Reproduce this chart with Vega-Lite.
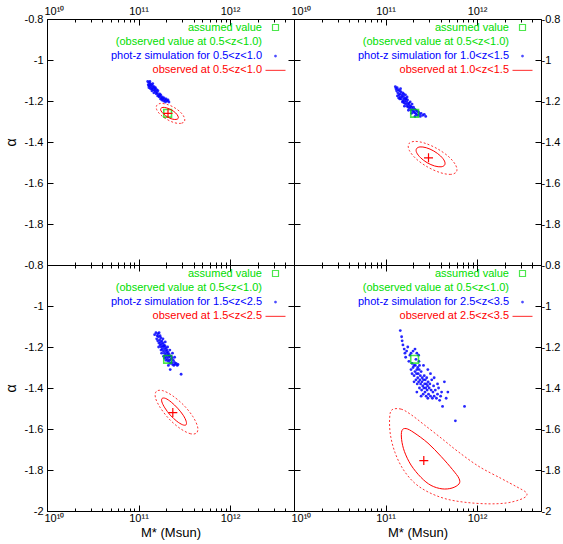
{
 "$schema": "https://vega.github.io/schema/vega-lite/v6.json",
 "padding": {"left": 3, "top": 1, "right": 2, "bottom": 2},
 "background": "white",
 "config": {
  "font": "Liberation Sans",
  "view": {"stroke": "#000000", "strokeWidth": 1},
  "axis": {"domain": false, "grid": false, "tickColor": "#000000", "tickWidth": 1, "labelColor": "#000000", "labelFont": "Liberation Sans", "labelFontSize": 11, "titleFont": "Liberation Sans", "titleFontSize": 13, "titleFontWeight": "normal", "titleColor": "#000000"}
 },
 "datasets": {
  "assumed": [{"M": 2.08e11, "alpha": -1.26}],
  "observed": [
   {"panel": "TL", "M": 2.1e11, "alpha": -1.26},
   {"panel": "TR", "M": 2.95e11, "alpha": -1.477},
   {"panel": "BL", "M": 2.37e11, "alpha": -1.52},
   {"panel": "BR", "M": 2.62e11, "alpha": -1.754}
  ],
  "sim_tl": [
   {"M":1.26e11,"alpha":-1.105},{"M":1.28e11,"alpha":-1.12},{"M":1.30e11,"alpha":-1.11},{"M":1.32e11,"alpha":-1.125},{"M":1.34e11,"alpha":-1.115},{"M":1.30e11,"alpha":-1.135},{"M":1.36e11,"alpha":-1.13},{"M":1.38e11,"alpha":-1.12},{"M":1.40e11,"alpha":-1.14},{"M":1.42e11,"alpha":-1.125},{"M":1.44e11,"alpha":-1.135},{"M":1.40e11,"alpha":-1.15},{"M":1.46e11,"alpha":-1.145},{"M":1.48e11,"alpha":-1.13},{"M":1.50e11,"alpha":-1.15},{"M":1.35e11,"alpha":-1.14},{"M":1.52e11,"alpha":-1.14},{"M":1.55e11,"alpha":-1.155},{"M":1.58e11,"alpha":-1.145},{"M":1.47e11,"alpha":-1.16},{"M":1.60e11,"alpha":-1.16},{"M":1.56e11,"alpha":-1.165},{"M":1.63e11,"alpha":-1.15},{"M":1.65e11,"alpha":-1.17},{"M":1.62e11,"alpha":-1.175},{"M":1.70e11,"alpha":-1.165},{"M":1.68e11,"alpha":-1.18},{"M":1.72e11,"alpha":-1.175},{"M":1.75e11,"alpha":-1.17},{"M":1.78e11,"alpha":-1.185},{"M":1.74e11,"alpha":-1.19},{"M":1.82e11,"alpha":-1.18},{"M":1.85e11,"alpha":-1.19},{"M":1.80e11,"alpha":-1.195},{"M":1.90e11,"alpha":-1.185},{"M":1.88e11,"alpha":-1.2},{"M":1.95e11,"alpha":-1.195},{"M":2.0e11,"alpha":-1.19},{"M":2.05e11,"alpha":-1.2},{"M":1.97e11,"alpha":-1.205},{"M":2.1e11,"alpha":-1.195},{"M":2.15e11,"alpha":-1.205},{"M":1.33e11,"alpha":-1.105},{"M":1.43e11,"alpha":-1.115},{"M":1.53e11,"alpha":-1.135},{"M":1.29e11,"alpha":-1.125}
  ],
  "sim_tr": [
   {"M":1.30e11,"alpha":-1.14},{"M":1.32e11,"alpha":-1.15},{"M":1.34e11,"alpha":-1.135},{"M":1.36e11,"alpha":-1.16},{"M":1.38e11,"alpha":-1.145},{"M":1.40e11,"alpha":-1.17},{"M":1.42e11,"alpha":-1.15},{"M":1.44e11,"alpha":-1.165},{"M":1.45e11,"alpha":-1.18},{"M":1.47e11,"alpha":-1.155},{"M":1.48e11,"alpha":-1.19},{"M":1.50e11,"alpha":-1.17},{"M":1.52e11,"alpha":-1.18},{"M":1.54e11,"alpha":-1.16},{"M":1.55e11,"alpha":-1.2},{"M":1.57e11,"alpha":-1.175},{"M":1.58e11,"alpha":-1.19},{"M":1.60e11,"alpha":-1.21},{"M":1.62e11,"alpha":-1.185},{"M":1.63e11,"alpha":-1.2},{"M":1.65e11,"alpha":-1.17},{"M":1.66e11,"alpha":-1.215},{"M":1.68e11,"alpha":-1.19},{"M":1.70e11,"alpha":-1.205},{"M":1.72e11,"alpha":-1.225},{"M":1.74e11,"alpha":-1.195},{"M":1.75e11,"alpha":-1.215},{"M":1.77e11,"alpha":-1.23},{"M":1.80e11,"alpha":-1.21},{"M":1.82e11,"alpha":-1.22},{"M":1.84e11,"alpha":-1.235},{"M":1.86e11,"alpha":-1.205},{"M":1.88e11,"alpha":-1.225},{"M":1.90e11,"alpha":-1.245},{"M":1.92e11,"alpha":-1.23},{"M":1.95e11,"alpha":-1.215},{"M":1.97e11,"alpha":-1.24},{"M":2.0e11,"alpha":-1.25},{"M":2.02e11,"alpha":-1.23},{"M":2.05e11,"alpha":-1.255},{"M":2.08e11,"alpha":-1.24},{"M":2.12e11,"alpha":-1.26},{"M":2.15e11,"alpha":-1.245},{"M":2.18e11,"alpha":-1.265},{"M":2.22e11,"alpha":-1.25},{"M":2.25e11,"alpha":-1.27},{"M":2.30e11,"alpha":-1.255},{"M":2.35e11,"alpha":-1.265},{"M":2.40e11,"alpha":-1.275},{"M":2.45e11,"alpha":-1.26},{"M":2.55e11,"alpha":-1.27},{"M":2.65e11,"alpha":-1.265},{"M":2.75e11,"alpha":-1.275},{"M":1.35e11,"alpha":-1.175},{"M":1.43e11,"alpha":-1.19},{"M":1.53e11,"alpha":-1.205},{"M":1.46e11,"alpha":-1.14},{"M":1.58e11,"alpha":-1.165},{"M":1.67e11,"alpha":-1.19},{"M":1.78e11,"alpha":-1.245},{"M":1.93e11,"alpha":-1.26},{"M":1.28e11,"alpha":-1.13},{"M":1.39e11,"alpha":-1.185},{"M":1.61e11,"alpha":-1.225},{"M":1.72e11,"alpha":-1.18},{"M":2.10e11,"alpha":-1.275}
  ],
  "sim_bl": [
   {"M":1.50e11,"alpha":-1.14},{"M":1.55e11,"alpha":-1.13},{"M":1.58e11,"alpha":-1.16},{"M":1.60e11,"alpha":-1.145},{"M":1.62e11,"alpha":-1.17},{"M":1.65e11,"alpha":-1.15},{"M":1.67e11,"alpha":-1.18},{"M":1.68e11,"alpha":-1.13},{"M":1.70e11,"alpha":-1.165},{"M":1.72e11,"alpha":-1.19},{"M":1.74e11,"alpha":-1.175},{"M":1.75e11,"alpha":-1.155},{"M":1.77e11,"alpha":-1.2},{"M":1.78e11,"alpha":-1.185},{"M":1.80e11,"alpha":-1.17},{"M":1.82e11,"alpha":-1.21},{"M":1.83e11,"alpha":-1.195},{"M":1.85e11,"alpha":-1.18},{"M":1.87e11,"alpha":-1.22},{"M":1.88e11,"alpha":-1.2},{"M":1.90e11,"alpha":-1.19},{"M":1.92e11,"alpha":-1.23},{"M":1.93e11,"alpha":-1.21},{"M":1.95e11,"alpha":-1.195},{"M":1.97e11,"alpha":-1.24},{"M":1.98e11,"alpha":-1.22},{"M":2.00e11,"alpha":-1.205},{"M":2.02e11,"alpha":-1.25},{"M":2.04e11,"alpha":-1.23},{"M":2.05e11,"alpha":-1.215},{"M":2.07e11,"alpha":-1.26},{"M":2.09e11,"alpha":-1.24},{"M":2.10e11,"alpha":-1.225},{"M":2.12e11,"alpha":-1.27},{"M":2.14e11,"alpha":-1.25},{"M":2.16e11,"alpha":-1.235},{"M":2.18e11,"alpha":-1.265},{"M":2.20e11,"alpha":-1.245},{"M":2.22e11,"alpha":-1.28},{"M":2.25e11,"alpha":-1.26},{"M":2.28e11,"alpha":-1.245},{"M":2.30e11,"alpha":-1.275},{"M":2.33e11,"alpha":-1.255},{"M":2.36e11,"alpha":-1.285},{"M":2.40e11,"alpha":-1.265},{"M":2.43e11,"alpha":-1.29},{"M":2.47e11,"alpha":-1.275},{"M":2.52e11,"alpha":-1.285},{"M":2.58e11,"alpha":-1.28},{"M":2.65e11,"alpha":-1.29},{"M":2.70e11,"alpha":-1.285},{"M":1.63e11,"alpha":-1.135},{"M":1.72e11,"alpha":-1.145},{"M":1.85e11,"alpha":-1.16},{"M":1.96e11,"alpha":-1.175},{"M":2.08e11,"alpha":-1.2},{"M":2.20e11,"alpha":-1.215},{"M":1.76e11,"alpha":-1.215},{"M":1.88e11,"alpha":-1.245},{"M":2.00e11,"alpha":-1.265},{"M":2.12e11,"alpha":-1.29},{"M":2.22e11,"alpha":-1.31},{"M":2.92e11,"alpha":-1.333},{"M":1.66e11,"alpha":-1.2},{"M":1.79e11,"alpha":-1.23},{"M":1.93e11,"alpha":-1.255},{"M":2.35e11,"alpha":-1.23},{"M":2.48e11,"alpha":-1.25}
  ],
  "sim_br": [
   {"M":1.45e11,"alpha":-1.12},{"M":1.50e11,"alpha":-1.15},{"M":1.52e11,"alpha":-1.17},{"M":1.55e11,"alpha":-1.19},{"M":1.60e11,"alpha":-1.21},{"M":1.63e11,"alpha":-1.23},{"M":1.70e11,"alpha":-1.22},{"M":1.66e11,"alpha":-1.25},{"M":1.75e11,"alpha":-1.2},{"M":1.80e11,"alpha":-1.27},{"M":1.85e11,"alpha":-1.24},{"M":1.90e11,"alpha":-1.23},{"M":1.95e11,"alpha":-1.28},{"M":2.0e11,"alpha":-1.22},{"M":2.05e11,"alpha":-1.29},{"M":2.10e11,"alpha":-1.21},{"M":2.15e11,"alpha":-1.26},{"M":2.2e11,"alpha":-1.23},{"M":2.25e11,"alpha":-1.3},{"M":2.30e11,"alpha":-1.24},{"M":2.32e11,"alpha":-1.27},
   {"M":1.90e11,"alpha":-1.31},{"M":1.95e11,"alpha":-1.33},{"M":2.0e11,"alpha":-1.3},{"M":2.05e11,"alpha":-1.34},{"M":2.10e11,"alpha":-1.32},{"M":2.12e11,"alpha":-1.29},{"M":2.15e11,"alpha":-1.36},{"M":2.18e11,"alpha":-1.33},{"M":2.20e11,"alpha":-1.31},{"M":2.22e11,"alpha":-1.38},{"M":2.25e11,"alpha":-1.35},{"M":2.28e11,"alpha":-1.33},{"M":2.30e11,"alpha":-1.37},{"M":2.33e11,"alpha":-1.31},{"M":2.35e11,"alpha":-1.4},{"M":2.38e11,"alpha":-1.36},{"M":2.40e11,"alpha":-1.34},{"M":2.42e11,"alpha":-1.38},{"M":2.45e11,"alpha":-1.32},{"M":2.48e11,"alpha":-1.41},{"M":2.50e11,"alpha":-1.37},{"M":2.52e11,"alpha":-1.35},{"M":2.55e11,"alpha":-1.39},{"M":2.58e11,"alpha":-1.43},{"M":2.60e11,"alpha":-1.36},{"M":2.62e11,"alpha":-1.4},{"M":2.65e11,"alpha":-1.34},{"M":2.68e11,"alpha":-1.38},{"M":2.70e11,"alpha":-1.42},{"M":2.72e11,"alpha":-1.36},{"M":2.75e11,"alpha":-1.4},{"M":2.78e11,"alpha":-1.44},{"M":2.80e11,"alpha":-1.38},{"M":2.82e11,"alpha":-1.35},{"M":2.85e11,"alpha":-1.41},{"M":2.88e11,"alpha":-1.39},{"M":2.90e11,"alpha":-1.45},{"M":2.92e11,"alpha":-1.37},{"M":2.95e11,"alpha":-1.43},{"M":3.0e11,"alpha":-1.4},{"M":3.05e11,"alpha":-1.38},{"M":3.1e11,"alpha":-1.44},{"M":3.15e11,"alpha":-1.41},{"M":3.2e11,"alpha":-1.36},{"M":3.25e11,"alpha":-1.45},{"M":3.3e11,"alpha":-1.42},{"M":3.35e11,"alpha":-1.39},{"M":3.4e11,"alpha":-1.44},{"M":3.5e11,"alpha":-1.41},{"M":3.6e11,"alpha":-1.45},{"M":3.7e11,"alpha":-1.43},{"M":3.8e11,"alpha":-1.4},{"M":3.9e11,"alpha":-1.46},{"M":4.0e11,"alpha":-1.44},{"M":4.2e11,"alpha":-1.49},{"M":4.1e11,"alpha":-1.42},{"M":4.4e11,"alpha":-1.37},{"M":4.8e11,"alpha":-1.42},{"M":4.6e11,"alpha":-1.45},{"M":7.3e11,"alpha":-1.49},{"M":5.8e11,"alpha":-1.56},{"M":2.60e11,"alpha":-1.29},{"M":2.45e11,"alpha":-1.44},{"M":3.1e11,"alpha":-1.33},{"M":3.4e11,"alpha":-1.35},{"M":2.2e11,"alpha":-1.42},{"M":3.7e11,"alpha":-1.38},{"M":2.9e11,"alpha":-1.31},{"M":2.35e11,"alpha":-1.29},{"M":2.05e11,"alpha":-1.37}
  ],
  "contours": [
   {"panel":"TL","level":"outer","i":0,"M":3.17e11,"alpha":-1.3},{"panel":"TL","level":"outer","i":1,"M":2.90e11,"alpha":-1.309},{"panel":"TL","level":"outer","i":2,"M":2.47e11,"alpha":-1.306},{"panel":"TL","level":"outer","i":3,"M":2.05e11,"alpha":-1.29},{"panel":"TL","level":"outer","i":4,"M":1.74e11,"alpha":-1.267},{"panel":"TL","level":"outer","i":5,"M":1.58e11,"alpha":-1.242},{"panel":"TL","level":"outer","i":6,"M":1.58e11,"alpha":-1.222},{"panel":"TL","level":"outer","i":7,"M":1.73e11,"alpha":-1.212},{"panel":"TL","level":"outer","i":8,"M":2.03e11,"alpha":-1.216},{"panel":"TL","level":"outer","i":9,"M":2.44e11,"alpha":-1.231},{"panel":"TL","level":"outer","i":10,"M":2.88e11,"alpha":-1.255},{"panel":"TL","level":"outer","i":11,"M":3.16e11,"alpha":-1.28},
   {"panel":"TL","level":"inner","i":0,"M":2.71e11,"alpha":-1.285},{"panel":"TL","level":"inner","i":1,"M":2.57e11,"alpha":-1.29},{"panel":"TL","level":"inner","i":2,"M":2.33e11,"alpha":-1.288},{"panel":"TL","level":"inner","i":3,"M":2.08e11,"alpha":-1.278},{"panel":"TL","level":"inner","i":4,"M":1.88e11,"alpha":-1.263},{"panel":"TL","level":"inner","i":5,"M":1.76e11,"alpha":-1.248},{"panel":"TL","level":"inner","i":6,"M":1.75e11,"alpha":-1.237},{"panel":"TL","level":"inner","i":7,"M":1.85e11,"alpha":-1.231},{"panel":"TL","level":"inner","i":8,"M":2.04e11,"alpha":-1.234},{"panel":"TL","level":"inner","i":9,"M":2.30e11,"alpha":-1.244},{"panel":"TL","level":"inner","i":10,"M":2.54e11,"alpha":-1.258},{"panel":"TL","level":"inner","i":11,"M":2.70e11,"alpha":-1.274},
   {"panel":"TR","level":"outer","i":0,"M":5.96e11,"alpha":-1.545},{"panel":"TR","level":"outer","i":1,"M":5.15e11,"alpha":-1.558},{"panel":"TR","level":"outer","i":2,"M":3.94e11,"alpha":-1.549},{"panel":"TR","level":"outer","i":3,"M":2.86e11,"alpha":-1.521},{"panel":"TR","level":"outer","i":4,"M":2.16e11,"alpha":-1.482},{"panel":"TR","level":"outer","i":5,"M":1.82e11,"alpha":-1.441},{"panel":"TR","level":"outer","i":6,"M":1.79e11,"alpha":-1.41},{"panel":"TR","level":"outer","i":7,"M":2.07e11,"alpha":-1.397},{"panel":"TR","level":"outer","i":8,"M":2.70e11,"alpha":-1.406},{"panel":"TR","level":"outer","i":9,"M":3.72e11,"alpha":-1.434},{"panel":"TR","level":"outer","i":10,"M":4.94e11,"alpha":-1.473},{"panel":"TR","level":"outer","i":11,"M":5.86e11,"alpha":-1.514},
   {"panel":"TR","level":"inner","i":0,"M":4.43e11,"alpha":-1.512},{"panel":"TR","level":"inner","i":1,"M":4.05e11,"alpha":-1.521},{"panel":"TR","level":"inner","i":2,"M":3.44e11,"alpha":-1.517},{"panel":"TR","level":"inner","i":3,"M":2.85e11,"alpha":-1.501},{"panel":"TR","level":"inner","i":4,"M":2.42e11,"alpha":-1.477},{"panel":"TR","level":"inner","i":5,"M":2.19e11,"alpha":-1.452},{"panel":"TR","level":"inner","i":6,"M":2.18e11,"alpha":-1.433},{"panel":"TR","level":"inner","i":7,"M":2.38e11,"alpha":-1.424},{"panel":"TR","level":"inner","i":8,"M":2.79e11,"alpha":-1.428},{"panel":"TR","level":"inner","i":9,"M":3.37e11,"alpha":-1.444},{"panel":"TR","level":"inner","i":10,"M":3.99e11,"alpha":-1.468},{"panel":"TR","level":"inner","i":11,"M":4.41e11,"alpha":-1.493},
   {"panel":"BL","level":"outer","i":0,"M":4.32e11,"alpha":-1.619},{"panel":"BL","level":"outer","i":1,"M":3.69e11,"alpha":-1.623},{"panel":"BL","level":"outer","i":2,"M":2.86e11,"alpha":-1.598},{"panel":"BL","level":"outer","i":3,"M":2.17e11,"alpha":-1.552},{"panel":"BL","level":"outer","i":4,"M":1.73e11,"alpha":-1.496},{"panel":"BL","level":"outer","i":5,"M":1.53e11,"alpha":-1.447},{"panel":"BL","level":"outer","i":6,"M":1.57e11,"alpha":-1.416},{"panel":"BL","level":"outer","i":7,"M":1.84e11,"alpha":-1.413},{"panel":"BL","level":"outer","i":8,"M":2.36e11,"alpha":-1.438},{"panel":"BL","level":"outer","i":9,"M":3.12e11,"alpha":-1.484},{"panel":"BL","level":"outer","i":10,"M":3.92e11,"alpha":-1.539},{"panel":"BL","level":"outer","i":11,"M":4.42e11,"alpha":-1.589},
   {"panel":"BL","level":"inner","i":0,"M":3.30e11,"alpha":-1.58},{"panel":"BL","level":"inner","i":1,"M":3.02e11,"alpha":-1.579},{"panel":"BL","level":"inner","i":2,"M":2.62e11,"alpha":-1.562},{"panel":"BL","level":"inner","i":3,"M":2.22e11,"alpha":-1.532},{"panel":"BL","level":"inner","i":4,"M":1.94e11,"alpha":-1.497},{"panel":"BL","level":"inner","i":5,"M":1.80e11,"alpha":-1.468},{"panel":"BL","level":"inner","i":6,"M":1.81e11,"alpha":-1.451},{"panel":"BL","level":"inner","i":7,"M":1.98e11,"alpha":-1.451},{"panel":"BL","level":"inner","i":8,"M":2.28e11,"alpha":-1.469},{"panel":"BL","level":"inner","i":9,"M":2.68e11,"alpha":-1.499},{"panel":"BL","level":"inner","i":10,"M":3.08e11,"alpha":-1.533},{"panel":"BL","level":"inner","i":11,"M":3.32e11,"alpha":-1.563},
   {"panel":"BR","level":"outer","i":0,"M":1.18e11,"alpha":-1.506},{"panel":"BR","level":"outer","i":1,"M":1.48e11,"alpha":-1.503},{"panel":"BR","level":"outer","i":2,"M":1.90e11,"alpha":-1.53},{"panel":"BR","level":"outer","i":3,"M":2.64e11,"alpha":-1.579},{"panel":"BR","level":"outer","i":4,"M":4.05e11,"alpha":-1.644},{"panel":"BR","level":"outer","i":5,"M":6.19e11,"alpha":-1.71},{"panel":"BR","level":"outer","i":6,"M":1.05e12,"alpha":-1.783},{"panel":"BR","level":"outer","i":7,"M":1.83e12,"alpha":-1.841},{"panel":"BR","level":"outer","i":8,"M":2.74e12,"alpha":-1.883},{"panel":"BR","level":"outer","i":9,"M":3.43e12,"alpha":-1.909},{"panel":"BR","level":"outer","i":10,"M":3.43e12,"alpha":-1.929},{"panel":"BR","level":"outer","i":11,"M":2.88e12,"alpha":-1.946},{"panel":"BR","level":"outer","i":12,"M":2.08e12,"alpha":-1.961},{"panel":"BR","level":"outer","i":13,"M":1.32e12,"alpha":-1.965},{"panel":"BR","level":"outer","i":14,"M":7.59e11,"alpha":-1.958},{"panel":"BR","level":"outer","i":15,"M":4.58e11,"alpha":-1.941},{"panel":"BR","level":"outer","i":16,"M":2.91e11,"alpha":-1.907},{"panel":"BR","level":"outer","i":17,"M":2.05e11,"alpha":-1.861},{"panel":"BR","level":"outer","i":18,"M":1.55e11,"alpha":-1.795},{"panel":"BR","level":"outer","i":19,"M":1.27e11,"alpha":-1.715},{"panel":"BR","level":"outer","i":20,"M":1.13e11,"alpha":-1.627},{"panel":"BR","level":"outer","i":21,"M":1.11e11,"alpha":-1.544},
   {"panel":"BR","level":"inner","i":0,"M":1.51e11,"alpha":-1.608},{"panel":"BR","level":"inner","i":1,"M":1.68e11,"alpha":-1.598},{"panel":"BR","level":"inner","i":2,"M":2.05e11,"alpha":-1.618},{"panel":"BR","level":"inner","i":3,"M":2.91e11,"alpha":-1.669},{"panel":"BR","level":"inner","i":4,"M":4.05e11,"alpha":-1.734},{"panel":"BR","level":"inner","i":5,"M":5.40e11,"alpha":-1.798},{"panel":"BR","level":"inner","i":6,"M":6.35e11,"alpha":-1.841},{"panel":"BR","level":"inner","i":7,"M":6.35e11,"alpha":-1.868},{"panel":"BR","level":"inner","i":8,"M":5.33e11,"alpha":-1.888},{"panel":"BR","level":"inner","i":9,"M":4.15e11,"alpha":-1.892},{"panel":"BR","level":"inner","i":10,"M":3.14e11,"alpha":-1.875},{"panel":"BR","level":"inner","i":11,"M":2.44e11,"alpha":-1.836},{"panel":"BR","level":"inner","i":12,"M":1.90e11,"alpha":-1.776},{"panel":"BR","level":"inner","i":13,"M":1.61e11,"alpha":-1.71},{"panel":"BR","level":"inner","i":14,"M":1.50e11,"alpha":-1.652}
  ]
 },
 "columns": 2,
 "spacing": 0,
 "bounds": "flush",
 "resolve": {"scale": {"color": "independent"}, "legend": {"color": "independent"}},
 "concat": [
  {
   "width": 247, "height": 246,
   "layer": [
    {"data": {"name": "sim_tl"},
     "mark": {"type": "point", "filled": true, "size": 8, "opacity": 0.85},
     "encoding": {
      "x": {"field": "M", "type": "quantitative", "scale": {"type": "log", "domain": [1e10, 5e12], "nice": false},
            "axis": {"orient": "bottom", "values": [1e10,2e10,3e10,4e10,5e10,6e10,7e10,8e10,9e10,1e11,2e11,3e11,4e11,5e11,6e11,7e11,8e11,9e11,1e12,2e12,3e12,4e12], "labels": false, "title": null, "tickSize": {"condition": {"test": "indexof([1e10,1e11,1e12], datum.value) >= 0", "value": -6}, "value": -3}}},
      "y": {"field": "alpha", "type": "quantitative", "scale": {"domain": [-2, -0.8], "nice": false, "zero": false},
            "axis": {"orient": "left", "values": [-2,-1.8,-1.6,-1.4,-1.2,-1,-0.8], "labelExpr": "datum.value == -2 ? '' : '' + datum.value", "labelPadding": 10, "tickSize": -6, "title": "α", "titleFontSize": 14, "titlePadding": 6}},
      "color": {"datum": "phot-z simulation for 0.5<z<1.0", "type": "nominal",
                "scale": {"domain": ["assumed value", "(observed value at 0.5<z<1.0)", "phot-z simulation for 0.5<z<1.0", "observed at 0.5<z<1.0"], "range": ["#00dd00", "#00dd00", "#0000ff", "#ff0000"]},
                "legend": {"title": null, "orient": "top-right", "offset": 3, "padding": 0, "labelFont": "Liberation Sans", "labelFontSize": 11, "labelAlign": "right", "labelOffset": -19, "labelLimit": 300, "rowPadding": 2.3, "symbolSize": 64, "symbolStrokeWidth": 0, "symbolOpacity": 1,
                  "symbolType": {"expr": "indexof(datum.value,'assumed')==0 ? 'M-0.9,-0.9H0.9V0.9H-0.9Z M-0.6,-0.6V0.6H0.6V-0.6Z' : indexof(datum.value,'phot')==0 ? 'M-0.35,0A0.35,0.35 0 1,0 0.35,0A0.35,0.35 0 1,0 -0.35,0Z' : indexof(datum.value,'observed at')==0 ? 'M-2.5,-0.15H2.5V0.15H-2.5Z' : 'M3.8,0H3.85'"},
                  "labelColor": {"expr": "indexof(datum.value,'phot')==0 ? '#0000ff' : indexof(datum.value,'observed at')==0 ? '#ff0000' : '#00dd00'"}}}
     }},
    {"data": {"name": "assumed"},
     "mark": {"type": "point", "shape": "square", "filled": false, "size": 60, "strokeWidth": 1.6},
     "encoding": {
      "x": {"field": "M", "type": "quantitative", "scale": {"type": "log", "domain": [1e10, 5e12], "nice": false},
            "axis": {"orient": "top", "values": [1e10,2e10,3e10,4e10,5e10,6e10,7e10,8e10,9e10,1e11,2e11,3e11,4e11,5e11,6e11,7e11,8e11,9e11,1e12,2e12,3e12,4e12], "labelExpr": "datum.value == 1e10 ? '10¹⁰' : datum.value == 1e11 ? '10¹¹' : datum.value == 1e12 ? '10¹²' : ''", "labelFlush": true, "labelFlushOffset": 3, "labelOverlap": false, "labelPadding": 9, "title": null, "tickSize": {"condition": {"test": "indexof([1e10,1e11,1e12], datum.value) >= 0", "value": -6}, "value": -3}}},
      "y": {"field": "alpha", "type": "quantitative", "scale": {"domain": [-2, -0.8], "nice": false, "zero": false},
            "axis": {"orient": "right", "values": [-2,-1.8,-1.6,-1.4,-1.2,-1,-0.8], "labels": false, "tickSize": -6, "title": null}},
      "color": {"datum": "assumed value", "type": "nominal"}
     }},
    {"data": {"name": "contours"},
     "transform": [{"filter": "datum.panel == 'TL' && datum.level == 'outer'"}],
     "mark": {"type": "line", "interpolate": "cardinal-closed", "strokeWidth": 1, "strokeDash": [2, 2], "opacity": 0.8},
     "encoding": {"x": {"field": "M", "type": "quantitative", "axis": null}, "y": {"field": "alpha", "type": "quantitative", "axis": null}, "order": {"field": "i"}, "color": {"datum": "observed at 0.5<z<1.0", "type": "nominal"}}},
    {"data": {"name": "contours"},
     "transform": [{"filter": "datum.panel == 'TL' && datum.level == 'inner'"}],
     "mark": {"type": "line", "interpolate": "cardinal-closed", "strokeWidth": 1},
     "encoding": {"x": {"field": "M", "type": "quantitative", "axis": null}, "y": {"field": "alpha", "type": "quantitative", "axis": null}, "order": {"field": "i"}, "color": {"datum": "observed at 0.5<z<1.0", "type": "nominal"}}},
    {"data": {"name": "observed"},
     "transform": [{"filter": "datum.panel == 'TL'"}],
     "mark": {"type": "point", "shape": "M-1,0H1M0,-1V1", "filled": false, "size": 81, "strokeWidth": 1.2, "opacity": 1},
     "encoding": {"x": {"field": "M", "type": "quantitative", "axis": null}, "y": {"field": "alpha", "type": "quantitative", "axis": null}, "color": {"datum": "observed at 0.5<z<1.0", "type": "nominal"}}}
   ],
   "resolve": {"axis": {"x": "independent", "y": "independent"}}
  },
  {
   "width": 247, "height": 246,
   "layer": [
    {"data": {"name": "sim_tr"},
     "mark": {"type": "point", "filled": true, "size": 8, "opacity": 0.85},
     "encoding": {
      "x": {"field": "M", "type": "quantitative", "scale": {"type": "log", "domain": [1e10, 5e12], "nice": false},
            "axis": {"orient": "bottom", "values": [1e10,2e10,3e10,4e10,5e10,6e10,7e10,8e10,9e10,1e11,2e11,3e11,4e11,5e11,6e11,7e11,8e11,9e11,1e12,2e12,3e12,4e12], "labels": false, "title": null, "tickSize": {"condition": {"test": "indexof([1e10,1e11,1e12], datum.value) >= 0", "value": -6}, "value": -3}}},
      "y": {"field": "alpha", "type": "quantitative", "scale": {"domain": [-2, -0.8], "nice": false, "zero": false},
            "axis": {"orient": "left", "values": [-2,-1.8,-1.6,-1.4,-1.2,-1,-0.8], "labels": false, "tickSize": -6, "title": null}},
      "color": {"datum": "phot-z simulation for 1.0<z<1.5", "type": "nominal",
                "scale": {"domain": ["assumed value", "(observed value at 0.5<z<1.0)", "phot-z simulation for 1.0<z<1.5", "observed at 1.0<z<1.5"], "range": ["#00dd00", "#00dd00", "#0000ff", "#ff0000"]},
                "legend": {"title": null, "orient": "top-right", "offset": 3, "padding": 0, "labelFont": "Liberation Sans", "labelFontSize": 11, "labelAlign": "right", "labelOffset": -19, "labelLimit": 300, "rowPadding": 2.3, "symbolSize": 64, "symbolStrokeWidth": 0, "symbolOpacity": 1,
                  "symbolType": {"expr": "indexof(datum.value,'assumed')==0 ? 'M-0.9,-0.9H0.9V0.9H-0.9Z M-0.6,-0.6V0.6H0.6V-0.6Z' : indexof(datum.value,'phot')==0 ? 'M-0.35,0A0.35,0.35 0 1,0 0.35,0A0.35,0.35 0 1,0 -0.35,0Z' : indexof(datum.value,'observed at')==0 ? 'M-2.5,-0.15H2.5V0.15H-2.5Z' : 'M3.8,0H3.85'"},
                  "labelColor": {"expr": "indexof(datum.value,'phot')==0 ? '#0000ff' : indexof(datum.value,'observed at')==0 ? '#ff0000' : '#00dd00'"}}}
     }},
    {"data": {"name": "assumed"},
     "mark": {"type": "point", "shape": "square", "filled": false, "size": 60, "strokeWidth": 1.6},
     "encoding": {
      "x": {"field": "M", "type": "quantitative", "scale": {"type": "log", "domain": [1e10, 5e12], "nice": false},
            "axis": {"orient": "top", "values": [1e10,2e10,3e10,4e10,5e10,6e10,7e10,8e10,9e10,1e11,2e11,3e11,4e11,5e11,6e11,7e11,8e11,9e11,1e12,2e12,3e12,4e12], "labelExpr": "datum.value == 1e10 ? '10¹⁰' : datum.value == 1e11 ? '10¹¹' : datum.value == 1e12 ? '10¹²' : ''", "labelFlush": true, "labelFlushOffset": 3, "labelOverlap": false, "labelPadding": 9, "title": null, "tickSize": {"condition": {"test": "indexof([1e10,1e11,1e12], datum.value) >= 0", "value": -6}, "value": -3}}},
      "y": {"field": "alpha", "type": "quantitative", "scale": {"domain": [-2, -0.8], "nice": false, "zero": false},
            "axis": {"orient": "right", "values": [-2,-1.8,-1.6,-1.4,-1.2,-1,-0.8], "labelExpr": "datum.value == -2 ? '' : '' + datum.value", "labelPadding": 6, "tickSize": -6, "title": null}},
      "color": {"datum": "assumed value", "type": "nominal"}
     }},
    {"data": {"name": "contours"},
     "transform": [{"filter": "datum.panel == 'TR' && datum.level == 'outer'"}],
     "mark": {"type": "line", "interpolate": "cardinal-closed", "strokeWidth": 1, "strokeDash": [2, 2], "opacity": 0.8},
     "encoding": {"x": {"field": "M", "type": "quantitative", "axis": null}, "y": {"field": "alpha", "type": "quantitative", "axis": null}, "order": {"field": "i"}, "color": {"datum": "observed at 1.0<z<1.5", "type": "nominal"}}},
    {"data": {"name": "contours"},
     "transform": [{"filter": "datum.panel == 'TR' && datum.level == 'inner'"}],
     "mark": {"type": "line", "interpolate": "cardinal-closed", "strokeWidth": 1},
     "encoding": {"x": {"field": "M", "type": "quantitative", "axis": null}, "y": {"field": "alpha", "type": "quantitative", "axis": null}, "order": {"field": "i"}, "color": {"datum": "observed at 1.0<z<1.5", "type": "nominal"}}},
    {"data": {"name": "observed"},
     "transform": [{"filter": "datum.panel == 'TR'"}],
     "mark": {"type": "point", "shape": "M-1,0H1M0,-1V1", "filled": false, "size": 81, "strokeWidth": 1.2, "opacity": 1},
     "encoding": {"x": {"field": "M", "type": "quantitative", "axis": null}, "y": {"field": "alpha", "type": "quantitative", "axis": null}, "color": {"datum": "observed at 1.0<z<1.5", "type": "nominal"}}}
   ],
   "resolve": {"axis": {"x": "independent", "y": "independent"}}
  },
  {
   "width": 247, "height": 246,
   "layer": [
    {"data": {"name": "sim_bl"},
     "mark": {"type": "point", "filled": true, "size": 8, "opacity": 0.85},
     "encoding": {
      "x": {"field": "M", "type": "quantitative", "scale": {"type": "log", "domain": [1e10, 5e12], "nice": false},
            "axis": {"orient": "bottom", "values": [1e10,2e10,3e10,4e10,5e10,6e10,7e10,8e10,9e10,1e11,2e11,3e11,4e11,5e11,6e11,7e11,8e11,9e11,1e12,2e12,3e12,4e12], "labelExpr": "datum.value == 1e10 ? '10¹⁰' : datum.value == 1e11 ? '10¹¹' : datum.value == 1e12 ? '10¹²' : ''", "labelFlush": true, "labelFlushOffset": 3, "labelOverlap": false, "labelPadding": 7, "title": "M* (Msun)", "titlePadding": 0, "tickSize": {"condition": {"test": "indexof([1e10,1e11,1e12], datum.value) >= 0", "value": -6}, "value": -3}}},
      "y": {"field": "alpha", "type": "quantitative", "scale": {"domain": [-2, -0.8], "nice": false, "zero": false},
            "axis": {"orient": "left", "values": [-2,-1.8,-1.6,-1.4,-1.2,-1,-0.8], "labelExpr": "'' + datum.value", "labelPadding": 10, "tickSize": -6, "title": "α", "titleFontSize": 14, "titlePadding": 6}},
      "color": {"datum": "phot-z simulation for 1.5<z<2.5", "type": "nominal",
                "scale": {"domain": ["assumed value", "(observed value at 0.5<z<1.0)", "phot-z simulation for 1.5<z<2.5", "observed at 1.5<z<2.5"], "range": ["#00dd00", "#00dd00", "#0000ff", "#ff0000"]},
                "legend": {"title": null, "orient": "top-right", "offset": 3, "padding": 0, "labelFont": "Liberation Sans", "labelFontSize": 11, "labelAlign": "right", "labelOffset": -19, "labelLimit": 300, "rowPadding": 2.3, "symbolSize": 64, "symbolStrokeWidth": 0, "symbolOpacity": 1,
                  "symbolType": {"expr": "indexof(datum.value,'assumed')==0 ? 'M-0.9,-0.9H0.9V0.9H-0.9Z M-0.6,-0.6V0.6H0.6V-0.6Z' : indexof(datum.value,'phot')==0 ? 'M-0.35,0A0.35,0.35 0 1,0 0.35,0A0.35,0.35 0 1,0 -0.35,0Z' : indexof(datum.value,'observed at')==0 ? 'M-2.5,-0.15H2.5V0.15H-2.5Z' : 'M3.8,0H3.85'"},
                  "labelColor": {"expr": "indexof(datum.value,'phot')==0 ? '#0000ff' : indexof(datum.value,'observed at')==0 ? '#ff0000' : '#00dd00'"}}}
     }},
    {"data": {"name": "assumed"},
     "mark": {"type": "point", "shape": "square", "filled": false, "size": 60, "strokeWidth": 1.6},
     "encoding": {
      "x": {"field": "M", "type": "quantitative", "scale": {"type": "log", "domain": [1e10, 5e12], "nice": false},
            "axis": {"orient": "top", "values": [1e10,2e10,3e10,4e10,5e10,6e10,7e10,8e10,9e10,1e11,2e11,3e11,4e11,5e11,6e11,7e11,8e11,9e11,1e12,2e12,3e12,4e12], "labels": false, "title": null, "tickSize": {"condition": {"test": "indexof([1e10,1e11,1e12], datum.value) >= 0", "value": -6}, "value": -3}}},
      "y": {"field": "alpha", "type": "quantitative", "scale": {"domain": [-2, -0.8], "nice": false, "zero": false},
            "axis": {"orient": "right", "values": [-2,-1.8,-1.6,-1.4,-1.2,-1,-0.8], "labels": false, "tickSize": -6, "title": null}},
      "color": {"datum": "assumed value", "type": "nominal"}
     }},
    {"data": {"name": "contours"},
     "transform": [{"filter": "datum.panel == 'BL' && datum.level == 'outer'"}],
     "mark": {"type": "line", "interpolate": "cardinal-closed", "strokeWidth": 1, "strokeDash": [2, 2], "opacity": 0.8},
     "encoding": {"x": {"field": "M", "type": "quantitative", "axis": null}, "y": {"field": "alpha", "type": "quantitative", "axis": null}, "order": {"field": "i"}, "color": {"datum": "observed at 1.5<z<2.5", "type": "nominal"}}},
    {"data": {"name": "contours"},
     "transform": [{"filter": "datum.panel == 'BL' && datum.level == 'inner'"}],
     "mark": {"type": "line", "interpolate": "cardinal-closed", "strokeWidth": 1},
     "encoding": {"x": {"field": "M", "type": "quantitative", "axis": null}, "y": {"field": "alpha", "type": "quantitative", "axis": null}, "order": {"field": "i"}, "color": {"datum": "observed at 1.5<z<2.5", "type": "nominal"}}},
    {"data": {"name": "observed"},
     "transform": [{"filter": "datum.panel == 'BL'"}],
     "mark": {"type": "point", "shape": "M-1,0H1M0,-1V1", "filled": false, "size": 81, "strokeWidth": 1.2, "opacity": 1},
     "encoding": {"x": {"field": "M", "type": "quantitative", "axis": null}, "y": {"field": "alpha", "type": "quantitative", "axis": null}, "color": {"datum": "observed at 1.5<z<2.5", "type": "nominal"}}}
   ],
   "resolve": {"axis": {"x": "independent", "y": "independent"}}
  },
  {
   "width": 247, "height": 246,
   "layer": [
    {"data": {"name": "sim_br"},
     "mark": {"type": "point", "filled": true, "size": 8, "opacity": 0.85},
     "encoding": {
      "x": {"field": "M", "type": "quantitative", "scale": {"type": "log", "domain": [1e10, 5e12], "nice": false},
            "axis": {"orient": "bottom", "values": [1e10,2e10,3e10,4e10,5e10,6e10,7e10,8e10,9e10,1e11,2e11,3e11,4e11,5e11,6e11,7e11,8e11,9e11,1e12,2e12,3e12,4e12], "labelExpr": "datum.value == 1e10 ? '10¹⁰' : datum.value == 1e11 ? '10¹¹' : datum.value == 1e12 ? '10¹²' : ''", "labelFlush": true, "labelFlushOffset": 3, "labelOverlap": false, "labelPadding": 7, "title": "M* (Msun)", "titlePadding": 0, "tickSize": {"condition": {"test": "indexof([1e10,1e11,1e12], datum.value) >= 0", "value": -6}, "value": -3}}},
      "y": {"field": "alpha", "type": "quantitative", "scale": {"domain": [-2, -0.8], "nice": false, "zero": false},
            "axis": {"orient": "left", "values": [-2,-1.8,-1.6,-1.4,-1.2,-1,-0.8], "labels": false, "tickSize": -6, "title": null}},
      "color": {"datum": "phot-z simulation for 2.5<z<3.5", "type": "nominal",
                "scale": {"domain": ["assumed value", "(observed value at 0.5<z<1.0)", "phot-z simulation for 2.5<z<3.5", "observed at 2.5<z<3.5"], "range": ["#00dd00", "#00dd00", "#0000ff", "#ff0000"]},
                "legend": {"title": null, "orient": "top-right", "offset": 3, "padding": 0, "labelFont": "Liberation Sans", "labelFontSize": 11, "labelAlign": "right", "labelOffset": -19, "labelLimit": 300, "rowPadding": 2.3, "symbolSize": 64, "symbolStrokeWidth": 0, "symbolOpacity": 1,
                  "symbolType": {"expr": "indexof(datum.value,'assumed')==0 ? 'M-0.9,-0.9H0.9V0.9H-0.9Z M-0.6,-0.6V0.6H0.6V-0.6Z' : indexof(datum.value,'phot')==0 ? 'M-0.35,0A0.35,0.35 0 1,0 0.35,0A0.35,0.35 0 1,0 -0.35,0Z' : indexof(datum.value,'observed at')==0 ? 'M-2.5,-0.15H2.5V0.15H-2.5Z' : 'M3.8,0H3.85'"},
                  "labelColor": {"expr": "indexof(datum.value,'phot')==0 ? '#0000ff' : indexof(datum.value,'observed at')==0 ? '#ff0000' : '#00dd00'"}}}
     }},
    {"data": {"name": "assumed"},
     "mark": {"type": "point", "shape": "square", "filled": false, "size": 60, "strokeWidth": 1.6},
     "encoding": {
      "x": {"field": "M", "type": "quantitative", "scale": {"type": "log", "domain": [1e10, 5e12], "nice": false},
            "axis": {"orient": "top", "values": [1e10,2e10,3e10,4e10,5e10,6e10,7e10,8e10,9e10,1e11,2e11,3e11,4e11,5e11,6e11,7e11,8e11,9e11,1e12,2e12,3e12,4e12], "labels": false, "title": null, "tickSize": {"condition": {"test": "indexof([1e10,1e11,1e12], datum.value) >= 0", "value": -6}, "value": -3}}},
      "y": {"field": "alpha", "type": "quantitative", "scale": {"domain": [-2, -0.8], "nice": false, "zero": false},
            "axis": {"orient": "right", "values": [-2,-1.8,-1.6,-1.4,-1.2,-1,-0.8], "labelExpr": "'' + datum.value", "labelPadding": 6, "tickSize": -6, "title": null}},
      "color": {"datum": "assumed value", "type": "nominal"}
     }},
    {"data": {"name": "contours"},
     "transform": [{"filter": "datum.panel == 'BR' && datum.level == 'outer'"}],
     "mark": {"type": "line", "interpolate": "cardinal-closed", "strokeWidth": 1, "strokeDash": [2, 2], "opacity": 0.8},
     "encoding": {"x": {"field": "M", "type": "quantitative", "axis": null}, "y": {"field": "alpha", "type": "quantitative", "axis": null}, "order": {"field": "i"}, "color": {"datum": "observed at 2.5<z<3.5", "type": "nominal"}}},
    {"data": {"name": "contours"},
     "transform": [{"filter": "datum.panel == 'BR' && datum.level == 'inner'"}],
     "mark": {"type": "line", "interpolate": "cardinal-closed", "strokeWidth": 1},
     "encoding": {"x": {"field": "M", "type": "quantitative", "axis": null}, "y": {"field": "alpha", "type": "quantitative", "axis": null}, "order": {"field": "i"}, "color": {"datum": "observed at 2.5<z<3.5", "type": "nominal"}}},
    {"data": {"name": "observed"},
     "transform": [{"filter": "datum.panel == 'BR'"}],
     "mark": {"type": "point", "shape": "M-1,0H1M0,-1V1", "filled": false, "size": 81, "strokeWidth": 1.2, "opacity": 1},
     "encoding": {"x": {"field": "M", "type": "quantitative", "axis": null}, "y": {"field": "alpha", "type": "quantitative", "axis": null}, "color": {"datum": "observed at 2.5<z<3.5", "type": "nominal"}}}
   ],
   "resolve": {"axis": {"x": "independent", "y": "independent"}}
  }
 ]
}
